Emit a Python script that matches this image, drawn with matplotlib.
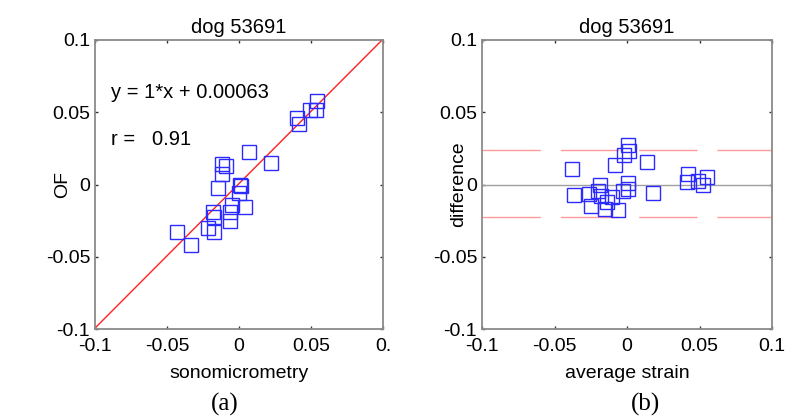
import matplotlib

matplotlib.use("Agg")
import matplotlib.pyplot as plt
import numpy as np

plt.rcParams["font.family"] = ["Liberation Sans", "DejaVu Sans"]

# --- data ---
# panel (a): sonomicrometry vs OF
sono = [-0.0429, -0.0336, -0.0214, -0.0172, -0.0184, -0.0172, -0.0145, -0.0119,
        -0.0119, -0.0091, -0.0064, -0.0064, -0.0052, -0.0001, 0.0006, 0.0017,
        0.0040, 0.0071, 0.0221, 0.0403, 0.0415, 0.0491, 0.0538, 0.0545]
of = [-0.0330, -0.0417, -0.0300, -0.0327, -0.0190, -0.0225, -0.0022, 0.0075,
      0.0145, 0.0128, -0.0253, -0.0190, -0.0144, -0.0057, -0.0006, -0.0013,
      -0.0156, 0.0225, 0.0149, 0.0461, 0.0417, 0.0514, 0.0514, 0.0577]
fit_slope = 1.0
fit_icept = 0.00063
fit_text = "y = 1*x + 0.00063"
r_text = "r =   0.91"

# panel (b): Bland-Altman
avg_strain = [-0.0376, -0.0365, -0.0259, -0.0248, -0.0186, -0.0197, -0.0179, -0.0151,
              -0.0135, -0.0106, -0.0064, -0.0083, -0.0030, 0.0005, 0.0005, -0.0018,
              0.0016, 0.0005, 0.0135, 0.0181, 0.0422, 0.0411, 0.0491, 0.0521, 0.0553]
diff = [0.0110, -0.0076, -0.0069, -0.0149, -0.0002, -0.0046, -0.0080, -0.0172,
        -0.0120, -0.0087, -0.0179, 0.0133, -0.0048, 0.0007, -0.0028, 0.0207,
        0.0230, 0.0276, 0.0156, -0.0057, 0.0074, 0.0016, 0.0023, 0.0000, 0.0051]
upper_lim = 0.0238
lower_lim = -0.0228

ticks = [-0.1, -0.05, 0, 0.05, 0.1]
xlabels_a = ["-0.1", "-0.05", "0", "0.05", "0."]
xlabels_b = ["-0.1", "-0.05", "0", "0.05", "0.1"]
ylabels = ["-0.1", "-0.05", "0", "0.05", "0.1"]

FS = 14
fig = plt.figure(figsize=(7.87, 4.2), dpi=100)
ax1 = fig.add_axes([95 / 787, 91 / 420, 288 / 787, 289 / 420])
ax2 = fig.add_axes([482 / 787, 91 / 420, 290 / 787, 289 / 420])


def style(ax, xl):
    ax.set_xlim(-0.1, 0.1)
    ax.set_ylim(-0.1, 0.1)
    ax.set_xticks(ticks, xl)
    ax.set_yticks(ticks, ylabels)
    ax.tick_params(direction="in", length=2.5, width=1, color="#333333",
                   top=True, right=True, labelsize=FS, pad=6.5)
    ax.tick_params(axis="y", pad=3.5)
    for s in ax.spines.values():
        s.set_color("#8a8a8a")
        s.set_linewidth(1.3)
    ax.set_title("dog 53691", fontsize=FS + 0.5, pad=5)


# (a)
style(ax1, xlabels_a)
xl = np.array([-0.1, 0.1])
ax1.plot(xl, fit_slope * xl + fit_icept, color="#ff2020", lw=1)
ax1.plot(sono, of, ls="none", marker="s", ms=9.5, mfc="none", mec="#2b2bff", mew=1)
ax1.text(-0.089, 0.0635, fit_text, fontsize=14.5, va="center")
ax1.text(-0.089, 0.031, r_text, fontsize=14.5, va="center")
ax1.set_xlabel("sonomicrometry", fontsize=FS, labelpad=7)
ax1.set_ylabel("OF", fontsize=FS, va="center")
ax1.yaxis.set_label_coords(-0.111, 0.5)

# (b)
style(ax2, xlabels_b)
ax2.axhline(0, color="#a0a0a0", lw=1)
for lim in (upper_lim, lower_lim):
    ax2.plot([-0.1, 0.1], [lim, lim], color="#ff9a9a", lw=1, dashes=(42, 14.4))
ax2.plot(avg_strain, diff, ls="none", marker="s", ms=9.5, mfc="none", mec="#2b2bff", mew=1)
ax2.set_xlabel("average strain", fontsize=FS, labelpad=7)
ax2.set_ylabel("difference", fontsize=FS, va="center")
ax2.yaxis.set_label_coords(-0.079, 0.5)

fig.text(225 / 787, 1 - 404 / 420, "(a)", family=["Liberation Serif", "DejaVu Serif"],
         fontsize=18, ha="center", va="center")
fig.text(646 / 787, 1 - 404 / 420, "(b)", family=["Liberation Serif", "DejaVu Serif"],
         fontsize=18, ha="center", va="center")

fig.savefig("out.png", dpi=100)
